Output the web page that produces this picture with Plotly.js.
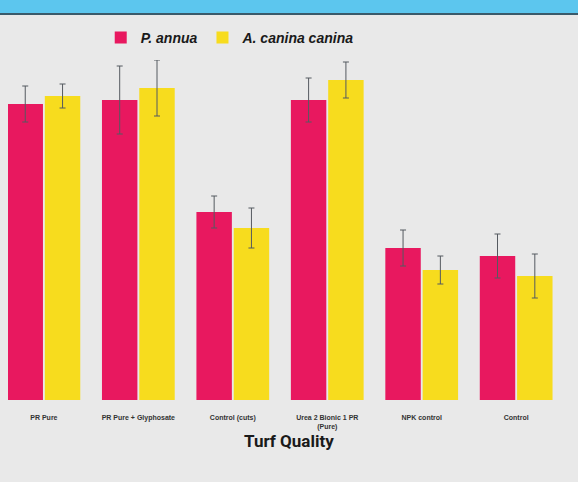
<!DOCTYPE html>
<html>
<head>
<meta charset="utf-8">
<script src="https://cdn.plot.ly/plotly-3.0.1.min.js"></script>
<style>
html,body{margin:0;padding:0;background:#e9e9e9;}
#chart{width:578px;height:482px;}
</style>
</head>
<body>
<div id="chart"></div>
<script>
const categories = ["PR Pure", "PR Pure + Glyphosate", "Control (cuts)", "Urea 2 Bionic 1 PR<br>(Pure)", "NPK control", "Control"];
const pAnnua = [7.4, 7.5, 4.7, 7.5, 3.8, 3.6];
const pAnnuaErr = [0.45, 0.85, 0.4, 0.55, 0.45, 0.55];
const aCanina = [7.6, 7.8, 4.3, 8.0, 3.25, 3.1];
const aCaninaErr = [0.3, 0.7, 0.5, 0.45, 0.35, 0.55];
const seriesNames = ["P. annua", "A. canina canina"];
const xTitle = "Turf Quality";

const traces = [
  {
    type: "bar", x: categories, y: pAnnua, name: "<b><i>" + seriesNames[0] + "</i></b>",
    marker: {color: "#e8185f"},
    error_y: {type: "data", array: pAnnuaErr, visible: true, color: "#555a60", thickness: 1, width: 3}
  },
  {
    type: "bar", x: categories, y: aCanina, name: "<b><i>" + seriesNames[1] + "</i></b>",
    marker: {color: "#f7dc1e"},
    error_y: {type: "data", array: aCaninaErr, visible: true, color: "#555a60", thickness: 1, width: 3}
  }
];

const layout = {
  width: 578, height: 482,
  margin: {l: 8, r: 8, t: 60, b: 82},
  paper_bgcolor: "#e9e9e9",
  plot_bgcolor: "#e9e9e9",
  barmode: "group",
  bargap: 0.21,
  bargroupgap: 0.05,
  showlegend: true,
  legend: {
    orientation: "h", x: 0.165, xanchor: "left", y: 1.065, yanchor: "middle",
    font: {family: "Liberation Sans, Arial, sans-serif", size: 14, color: "#1a1a1a"},
    bgcolor: "rgba(0,0,0,0)", itemwidth: 30, tracegroupgap: 0
  },
  xaxis: {
    type: "category", range: [-0.38, 5.57], showgrid: false, zeroline: false,
    showline: false, ticks: "", ticklabelstandoff: 12,
    tickfont: {family: "Liberation Sans Narrow, Liberation Sans, sans-serif", size: 7, color: "#333", weight: "bold"}
  },
  yaxis: {
    range: [0, 8.5], visible: false, showgrid: false, zeroline: false
  },
  annotations: [
    {text: "<b>" + xTitle + "</b>", xref: "paper", yref: "paper", x: 0.5, y: -0.12,
     xanchor: "center", yanchor: "middle", showarrow: false,
     font: {family: "Roboto, Liberation Sans Narrow, sans-serif", size: 17, color: "#1a1a1a"}}
  ],
  shapes: [
    {type: "rect", xref: "paper", yref: "paper", x0: -0.02, x1: 1.02, y0: 1.135, y1: 1.2,
     fillcolor: "#5cc6ee", line: {width: 0}, layer: "below"},
    {type: "line", xref: "paper", yref: "paper", x0: -0.02, x1: 1.02, y0: 1.135, y1: 1.135,
     line: {color: "#3a5a6a", width: 2}}
  ]
};

Plotly.newPlot("chart", traces, layout, {displayModeBar: false, staticPlot: true});
</script>
</body>
</html>
